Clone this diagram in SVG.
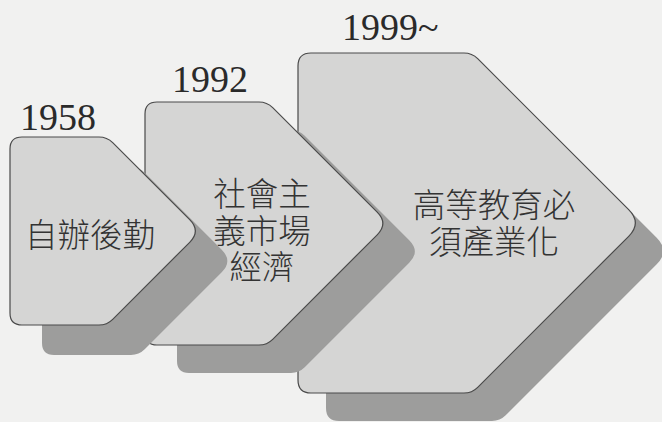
<svg xmlns="http://www.w3.org/2000/svg" width="662" height="422" viewBox="0 0 662 422">
<style>
.bg{fill:#f1f1f0}
.shape{fill:#d5d5d4;stroke:#4a4a4a;stroke-width:1.2}
.shadow{fill:#9d9d9c}
.year{font-family:"Liberation Serif","Times New Roman",serif;font-size:38px;fill:#2a2a2a}
.label{font-family:"Liberation Sans","Noto Sans CJK TC","Noto Sans CJK SC",sans-serif;font-size:32.5px;font-weight:300;fill:#333;text-anchor:middle}
</style>
<rect class="bg" x="0" y="0" width="662" height="422"/>
<g id="node-1999">
<path class="shadow" transform="translate(28,28)" d="M298,66 Q298,53 311,53 H464 Q472,53 477.7,58.7 L628.7,209.7 Q642,223 628.7,236.3 L477.7,387.3 Q472,393 464,393 H311 Q298,393 298,380 Z"/>
<path class="shape" d="M298,66 Q298,53 311,53 H464 Q472,53 477.7,58.7 L628.7,209.7 Q642,223 628.7,236.3 L477.7,387.3 Q472,393 464,393 H311 Q298,393 298,380 Z"/>
<text class="year" x="342" y="40">1999~</text>
<text class="label"><tspan x="494" y="217">高等教育必</tspan><tspan x="494" y="254">須產業化</tspan></text>
</g>
<g id="node-1992">
<path class="shadow" transform="translate(32,28)" d="M145,114 Q145,102 157,102 H259 Q267,102 272.7,107.7 L377.2,212.2 Q388.5,223.5 377.2,234.8 L272.7,339.3 Q267,345 259,345 H157 Q145,345 145,333 Z"/>
<path class="shape" d="M145,114 Q145,102 157,102 H259 Q267,102 272.7,107.7 L377.2,212.2 Q388.5,223.5 377.2,234.8 L272.7,339.3 Q267,345 259,345 H157 Q145,345 145,333 Z"/>
<text class="year" x="172" y="92">1992</text>
<text class="label"><tspan x="262" y="206">社會主</tspan><tspan x="262" y="243">義市場</tspan><tspan x="262" y="279">經濟</tspan></text>
</g>
<g id="node-1958">
<path class="shadow" transform="translate(32,30)" d="M10,149 Q10,137 22,137 H99 Q107,137 112.7,142.7 L189.7,219.7 Q201,231 189.7,242.3 L112.7,319.3 Q107,325 99,325 H22 Q10,325 10,313 Z"/>
<path class="shape" d="M10,149 Q10,137 22,137 H99 Q107,137 112.7,142.7 L189.7,219.7 Q201,231 189.7,242.3 L112.7,319.3 Q107,325 99,325 H22 Q10,325 10,313 Z"/>
<text class="year" x="20" y="130">1958</text>
<text class="label" x="90" y="247">自辦後勤</text>
</g>
<g id="connectors"></g>
</svg>
